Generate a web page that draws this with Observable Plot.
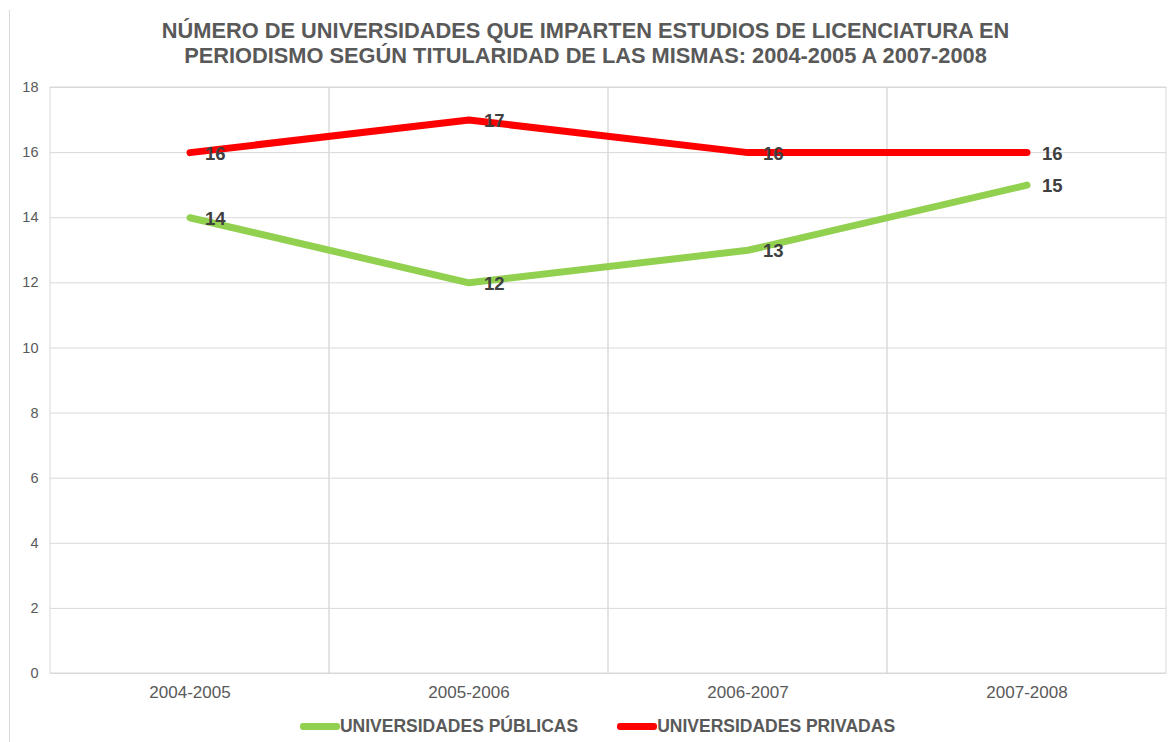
<!DOCTYPE html>
<html>
<head>
<meta charset="utf-8">
<script src="https://cdn.jsdelivr.net/npm/d3@7"></script>
<script src="https://cdn.jsdelivr.net/npm/@observablehq/plot@0.6"></script>
<style>
  html, body { margin: 0; padding: 0; background: #fff; }
  body { font-family: "Liberation Sans", Arial, sans-serif; }
  #wrap { position: relative; width: 1171px; height: 742px; overflow: hidden; }
  #edge { position: absolute; left: 9px; top: 10px; bottom: 0; width: 1px; background: #d9d9d9; }
  #title { position: absolute; top: 18px; left: 0; width: 1171px; text-align: center;
           font-weight: bold; font-size: 21.8px; line-height: 25px; color: #595959; }
  #chart { position: absolute; top: 75px; left: 0; }
  #legend { position: absolute; top: 715px; left: 12px; width: 1171px; display: flex; justify-content: center;
            gap: 39px; font-weight: bold; font-size: 17.5px; line-height: 22px; color: #595959; align-items: center; }
  .item { display: flex; align-items: center; }
  .sw { width: 40px; height: 7px; border-radius: 3px; margin-right: 0; }
</style>
</head>
<body>
<div id="wrap">
  <div id="edge"></div>
  <div id="title"></div>
  <div id="chart"></div>
  <div id="legend"></div>
</div>
<script>
const titleLines = ["NÚMERO DE UNIVERSIDADES QUE IMPARTEN ESTUDIOS DE LICENCIATURA EN",
                    "PERIODISMO SEGÚN TITULARIDAD DE LAS MISMAS: 2004-2005 A 2007-2008"];
const categories = ["2004-2005", "2005-2006", "2006-2007", "2007-2008"];
const seriesNames = ["UNIVERSIDADES PÚBLICAS", "UNIVERSIDADES PRIVADAS"];
const publicas = [14, 12, 13, 15];
const privadas = [16, 17, 16, 16];
const seriesColors = ["#92d050", "#ff0000"];
const yTicks = [0, 2, 4, 6, 8, 10, 12, 14, 16, 18];

document.getElementById("title").innerHTML = titleLines.join("<br>");

const data = [];
[publicas, privadas].forEach((vals, s) => {
  vals.forEach((v, i) => data.push({cat: categories[i], value: v, series: seriesNames[s]}));
});

const chart = Plot.plot({
  width: 1171,
  height: 630,
  marginTop: 12,
  marginBottom: 32,
  marginLeft: 50,
  marginRight: 5,
  style: {fontFamily: "Liberation Sans, Arial, sans-serif", background: "transparent"},
  x: {type: "band", domain: categories, padding: 0, label: null},
  y: {domain: [0, 18], label: null},
  color: {domain: seriesNames, range: seriesColors},
  marks: [
    Plot.ruleY(yTicks, {stroke: "#d9d9d9", strokeWidth: 1}),
    Plot.cell(categories, {x: d => d, fill: "none", stroke: "#d9d9d9", strokeWidth: 1}),
    Plot.axisY({ticks: yTicks, tickSize: 0, tickPadding: 12, fontSize: 14.5, fill: "#595959", label: null}),
    Plot.axisX({tickSize: 0, tickPadding: 12, fontSize: 17, fill: "#595959", label: null}),
    Plot.line(data, {x: "cat", y: "value", z: "series", stroke: "series", strokeWidth: 7,
                     strokeLinecap: "round", strokeLinejoin: "round"}),
    Plot.text(data, {x: "cat", y: "value", text: d => String(d.value), textAnchor: "start",
                     dx: 15, dy: 1, fontSize: 18.5, fontWeight: "bold", fill: "#404040"})
  ]
});
document.getElementById("chart").appendChild(chart);

const legend = document.getElementById("legend");
seriesNames.forEach((name, i) => {
  const it = document.createElement("div");
  it.className = "item";
  const sw = document.createElement("div");
  sw.className = "sw";
  sw.style.background = seriesColors[i];
  const t = document.createElement("span");
  t.textContent = name;
  it.appendChild(sw); it.appendChild(t);
  legend.appendChild(it);
});
</script>
</body>
</html>
